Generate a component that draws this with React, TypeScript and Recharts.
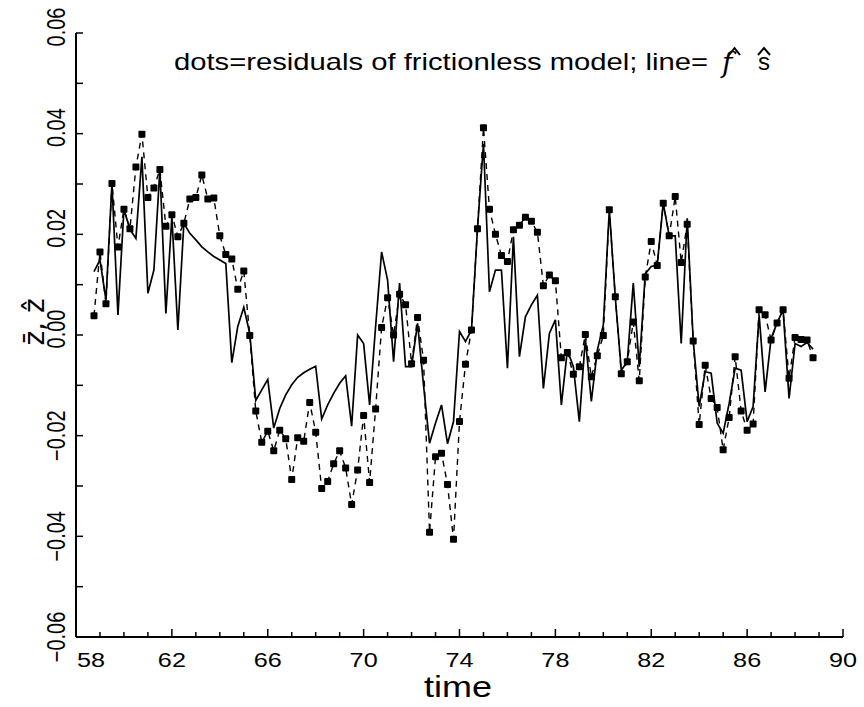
import React from "react";
import { ComposedChart, Line, XAxis, YAxis } from "recharts";

// quarterly observations, first one at 1958.75
const firstQuarter = 58.75;
const quarterStep = 0.25;

// dots: residuals of the frictionless model
const residuals = [
  0.0038,
  0.0165, 0.0062, 0.0301, 0.0175, // 59
  0.025, 0.0211, 0.0334, 0.0399, // 60
  0.0273, 0.0292, 0.0329, 0.0216, // 61
  0.0239, 0.0195, 0.0222, 0.027, // 62
  0.0273, 0.0318, 0.027, 0.0272, // 63
  0.0197, 0.016, 0.0151, 0.0091, // 64
  0.0127, -0.0001, -0.0151, -0.0213, // 65
  -0.0191, -0.023, -0.0189, -0.0206, // 66
  -0.0287, -0.0204, -0.0211, -0.0134, // 67
  -0.0193, -0.0305, -0.0291, -0.0256, // 68
  -0.023, -0.0264, -0.0337, -0.0268, // 69
  -0.016, -0.0293, -0.0147, 0.0015, // 70
  0.0074, 0.0, 0.0081, 0.006, // 71
  -0.0057, 0.0035, -0.005, -0.0392, // 72
  -0.0242, -0.0235, -0.0297, -0.0406, // 73
  -0.0172, -0.0058, 0.001, 0.0211, // 74
  0.0412, 0.025, 0.02, 0.0158, // 75
  0.0146, 0.0209, 0.0218, 0.0234, // 76
  0.0226, 0.0204, 0.0098, 0.0119, // 77
  0.0108, -0.0045, -0.0035, -0.0078, // 78
  -0.0063, 0.0001, -0.0083, -0.0041, // 79
  -0.0001, 0.0249, 0.0076, -0.0077, // 80
  -0.0053, 0.0026, -0.0091, 0.0115, // 81
  0.0186, 0.0138, 0.0262, 0.0197, // 82
  0.0275, 0.0144, 0.022, -0.0012, // 83
  -0.0178, -0.006, -0.0126, -0.0144, // 84
  -0.0228, -0.0164, -0.0043, -0.0151, // 85
  -0.0189, -0.0177, 0.005, 0.004, // 86
  -0.001, 0.0024, 0.005, -0.0086, // 87
  -0.0005, -0.0009, -0.001, -0.0045, // 88
];

// solid line: f-hat s-hat
const fitted = [
  0.0126,
  0.0149, 0.007, 0.0301, 0.004, // 59
  0.025, 0.021, 0.0192, 0.0354, // 60
  0.0083, 0.0129, 0.0329, 0.0043, // 61
  0.0235, 0.001, 0.0222, 0.0202, // 62
  0.0189, 0.0175, 0.0165, 0.0156, // 63
  0.0149, 0.0142, -0.0055, 0.0017, // 64
  0.0055, 0.0003, -0.013, -0.0109, // 65
  -0.0088, -0.0185, -0.0146, -0.0119, // 66
  -0.0099, -0.0084, -0.0075, -0.0068, // 67
  -0.0062, -0.0167, -0.0139, -0.0116, // 68
  -0.0096, -0.0081, -0.0181, 0.0, // 69
  -0.0017, -0.0139, 0.0017, 0.0165, // 70
  0.0109, -0.0053, 0.0103, -0.0063, // 71
  -0.0063, 0.0023, -0.01, -0.0215, // 72
  -0.0175, -0.0139, -0.0216, -0.0172, // 73
  0.0007, -0.0013, 0.001, 0.0211, // 74
  0.038, 0.0086, 0.0129, 0.0129, // 75
  -0.0066, 0.0195, -0.0043, 0.0036, // 76
  0.006, 0.0079, -0.0106, 0.0003, // 77
  0.003, -0.0139, -0.003, -0.0063, // 78
  -0.0172, -0.0007, -0.0132, -0.003, // 79
  0.002, 0.0249, 0.0075, -0.007, // 80
  -0.0053, 0.0103, -0.0063, 0.0122, // 81
  0.0136, 0.0139, 0.0262, 0.0197, // 82
  0.0197, -0.0017, 0.0232, -0.0011, // 83
  -0.0142, -0.0073, -0.0076, -0.0175, // 84
  -0.0195, -0.0136, -0.0066, -0.007, // 85
  -0.0172, -0.0142, 0.004, -0.0113, // 86
  -0.0007, 0.0024, 0.005, -0.0126, // 87
  -0.0017, -0.0023, -0.0015, -0.0028, // 88
];

const xTicks = [
  58, 59, 60, 61, 62, 63, 64, 65, 66, 67, 68, 69, 70, 71, 72, 73, 74,
  75, 76, 77, 78, 79, 80, 81, 82, 83, 84, 85, 86, 87, 88, 89, 90,
];
const xLabels = [58, 62, 66, 70, 74, 78, 82, 86, 90];
const yTicks = [
  -0.06, -0.05, -0.04, -0.03, -0.02, -0.01, 0, 0.01, 0.02, 0.03, 0.04, 0.05, 0.06,
];

const rows = residuals.map((r, i) => ({
  t: firstQuarter + i * quarterStep,
  resid: r,
  fit: fitted[i],
}));

function XTick(props: any) {
  const { x, y, payload } = props;
  const v = payload.value;
  const major = xLabels.includes(v);
  const first = v === 58;
  return (
    <g>
      <line x1={x} x2={x} y1={y} y2={y - (major ? 8 : 5)} stroke="#000" strokeWidth={1.5} />
      {major && (
        <text
          transform={`translate(${first ? x + 1 : x},${y + 30}) scale(1.2,1)`}
          textAnchor={first ? "start" : "middle"}
          fontSize={21}
          fill="#000"
        >
          {v}
        </text>
      )}
    </g>
  );
}

function YTick(props: any) {
  const { x, y, payload } = props;
  const v = payload.value;
  const h = Math.round(v * 100);
  const major = h % 2 === 0;
  const label = (h < 0 ? "\u2212" : "") + Math.abs(v).toFixed(2);
  const cy = h < 0 ? y : y - 6;
  return (
    <g>
      <line x1={x} x2={x + 7} y1={y} y2={y} stroke="#000" strokeWidth={1.5} />
      {major && (
        <text
          transform={`translate(65,${cy}) rotate(-90) scale(1,1.25)`}
          textAnchor="middle"
          fontSize={20}
          fill="#000"
        >
          {label}
        </text>
      )}
    </g>
  );
}

const squareDot = (p: any) => {
  const { cx, cy, index } = p;
  if (cx == null || cy == null) return <g key={index} />;
  return <rect key={index} x={cx - 3.5} y={cy - 3.5} width={7} height={7} rx={1} fill="#000" />;
};

export default function App() {
  return (
    <div
      style={{
        position: "absolute",
        left: 0,
        top: 0,
        width: 864,
        height: 707,
        background: "#fff",
        fontFamily: "'Liberation Sans', Arial, sans-serif",
      }}
    >
      <ComposedChart
        width={864}
        height={707}
        data={rows}
        margin={{ top: 33, right: 21, bottom: 0, left: 0 }}
      >
        <XAxis
          type="number"
          dataKey="t"
          domain={[58, 90]}
          ticks={xTicks}
          interval={0}
          height={70}
          tickSize={0}
          tickMargin={0}
          tickLine={false}
          axisLine={{ stroke: "#000", strokeWidth: 2 }}
          tick={(p: any) => <XTick {...p} />}
        />
        <YAxis
          type="number"
          domain={[-0.06, 0.06]}
          ticks={yTicks}
          interval={0}
          width={76}
          tickSize={0}
          tickMargin={0}
          tickLine={false}
          axisLine={{ stroke: "#000", strokeWidth: 2 }}
          tick={(p: any) => <YTick {...p} />}
        />
        <Line
          type="linear"
          dataKey="fit"
          stroke="#000"
          strokeWidth={1.7}
          dot={false}
          isAnimationActive={false}
        />
        <Line
          type="linear"
          dataKey="resid"
          stroke="#000"
          strokeWidth={1.4}
          strokeDasharray="6 5"
          dot={squareDot}
          isAnimationActive={false}
        />
      </ComposedChart>
      <svg
        width={864}
        height={707}
        style={{ position: "absolute", left: 0, top: 0, pointerEvents: "none" }}
      >
        <text x={174} y={70} fontSize={24} textLength={534} lengthAdjust="spacingAndGlyphs" fill="#000">
          dots=residuals of frictionless model; line=
        </text>
        <text x={722} y={72} fontSize={28} fontStyle="italic" fontFamily="'DejaVu Serif', serif" fill="#000">
          f
        </text>
        <path d="M729 55 L734.5 48 L740 55" fill="none" stroke="#000" strokeWidth={2} />
        <text x={758} y={70} fontSize={24} fill="#000">
          s
        </text>
        <path d="M758 55 L764 48 L770 55" fill="none" stroke="#000" strokeWidth={2} />
        <text transform="translate(44,322) rotate(-90)" textAnchor="middle" fontSize={28} fontFamily="'DejaVu Sans', sans-serif" fill="#000">
          {"z\u0304, \u1E91"}
        </text>
        <text transform="translate(458,697) scale(1.2,1)" textAnchor="middle" fontSize={30} fill="#000">
          time
        </text>
      </svg>
    </div>
  );
}
